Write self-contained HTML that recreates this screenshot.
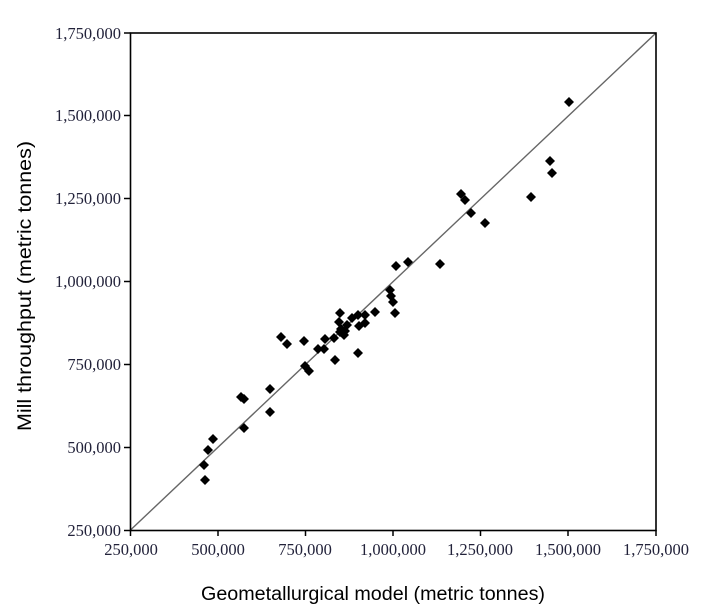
<!DOCTYPE html>
<html><head><meta charset="utf-8"><style>
body{margin:0;background:#fff;}
svg text{font-family:"Liberation Serif",serif;font-size:16.5px;fill:#22223a;}
</style></head><body>
<svg width="708" height="611" xmlns="http://www.w3.org/2000/svg">
<rect x="0" y="0" width="708" height="611" fill="#fff"/>
<line x1="130.5" y1="530" x2="656" y2="33" stroke="#666" stroke-width="1.4"/>
<rect x="130.5" y="33" width="525.5" height="497.5" fill="none" stroke="#000" stroke-width="1.6"/>
<g stroke="#000" stroke-width="1.5">
<line x1="130.5" y1="530" x2="130.5" y2="536"/><line x1="218" y1="530" x2="218" y2="536"/><line x1="305.5" y1="530" x2="305.5" y2="536"/><line x1="393" y1="530" x2="393" y2="536"/><line x1="480.5" y1="530" x2="480.5" y2="536"/><line x1="568" y1="530" x2="568" y2="536"/><line x1="656" y1="530" x2="656" y2="536"/>
<line x1="124" y1="530.5" x2="130.5" y2="530.5"/><line x1="124" y1="447.5" x2="130.5" y2="447.5"/><line x1="124" y1="364.5" x2="130.5" y2="364.5"/><line x1="124" y1="281.5" x2="130.5" y2="281.5"/><line x1="124" y1="198.5" x2="130.5" y2="198.5"/><line x1="124" y1="115.5" x2="130.5" y2="115.5"/><line x1="124" y1="33" x2="130.5" y2="33"/>
</g>
<g text-anchor="middle">
<text x="131" y="555">250,000</text><text x="218" y="555">500,000</text><text x="305" y="555">750,000</text><text x="393" y="555">1,000,000</text><text x="480" y="555">1,250,000</text><text x="568" y="555">1,500,000</text><text x="656" y="555">1,750,000</text>
</g>
<g text-anchor="end">
<text x="121" y="536">250,000</text><text x="121" y="453">500,000</text><text x="121" y="370">750,000</text><text x="121" y="287">1,000,000</text><text x="121" y="204">1,250,000</text><text x="121" y="121">1,500,000</text><text x="121" y="39">1,750,000</text>
</g>
<text x="373" y="600" text-anchor="middle" textLength="344" lengthAdjust="spacingAndGlyphs" style="font-family:'Liberation Sans',sans-serif;font-size:19px;fill:#000">Geometallurgical model (metric tonnes)</text>
<text transform="translate(31,286) rotate(-90)" text-anchor="middle" textLength="290" lengthAdjust="spacingAndGlyphs" style="font-family:'Liberation Sans',sans-serif;font-size:19px;fill:#000">Mill throughput (metric tonnes)</text>
<g fill="#000">
<path d="M204,460l5,5-5,5-5-5z"/><path d="M208,445l5,5-5,5-5-5z"/><path d="M213,434l5,5-5,5-5-5z"/><path d="M205,475l5,5-5,5-5-5z"/>
<path d="M244,423l5,5-5,5-5-5z"/><path d="M241,392l5,5-5,5-5-5z"/><path d="M244,394l5,5-5,5-5-5z"/><path d="M270,384l5,5-5,5-5-5z"/><path d="M270,407l5,5-5,5-5-5z"/>
<path d="M281,332l5,5-5,5-5-5z"/><path d="M287,339l5,5-5,5-5-5z"/><path d="M304,336l5,5-5,5-5-5z"/><path d="M305,361l5,5-5,5-5-5z"/><path d="M309,366l5,5-5,5-5-5z"/>
<path d="M335,355l5,5-5,5-5-5z"/><path d="M318,344l5,5-5,5-5-5z"/><path d="M324,344l5,5-5,5-5-5z"/><path d="M325,334l5,5-5,5-5-5z"/><path d="M334,333l5,5-5,5-5-5z"/>
<path d="M340,308l5,5-5,5-5-5z"/><path d="M339,317l5,5-5,5-5-5z"/><path d="M341,324l5,5-5,5-5-5z"/><path d="M345,326l5,5-5,5-5-5z"/><path d="M344,330l5,5-5,5-5-5z"/><path d="M340,327l5,5-5,5-5-5z"/><path d="M347,320l5,5-5,5-5-5z"/>
<path d="M352,313l5,5-5,5-5-5z"/><path d="M358,310l5,5-5,5-5-5z"/><path d="M359,321l5,5-5,5-5-5z"/><path d="M358,348l5,5-5,5-5-5z"/><path d="M365,310l5,5-5,5-5-5z"/><path d="M365,318l5,5-5,5-5-5z"/><path d="M375,307l5,5-5,5-5-5z"/>
<path d="M390,285l5,5-5,5-5-5z"/><path d="M391,291l5,5-5,5-5-5z"/><path d="M393,297l5,5-5,5-5-5z"/><path d="M395,308l5,5-5,5-5-5z"/>
<path d="M396,261l5,5-5,5-5-5z"/><path d="M408,257l5,5-5,5-5-5z"/><path d="M440,259l5,5-5,5-5-5z"/>
<path d="M461,189l5,5-5,5-5-5z"/><path d="M465,195l5,5-5,5-5-5z"/><path d="M471,208l5,5-5,5-5-5z"/><path d="M485,218l5,5-5,5-5-5z"/><path d="M531,192l5,5-5,5-5-5z"/>
<path d="M550,156l5,5-5,5-5-5z"/><path d="M552,168l5,5-5,5-5-5z"/><path d="M569,97l5,5-5,5-5-5z"/>
</g>
</svg>
</body></html>
